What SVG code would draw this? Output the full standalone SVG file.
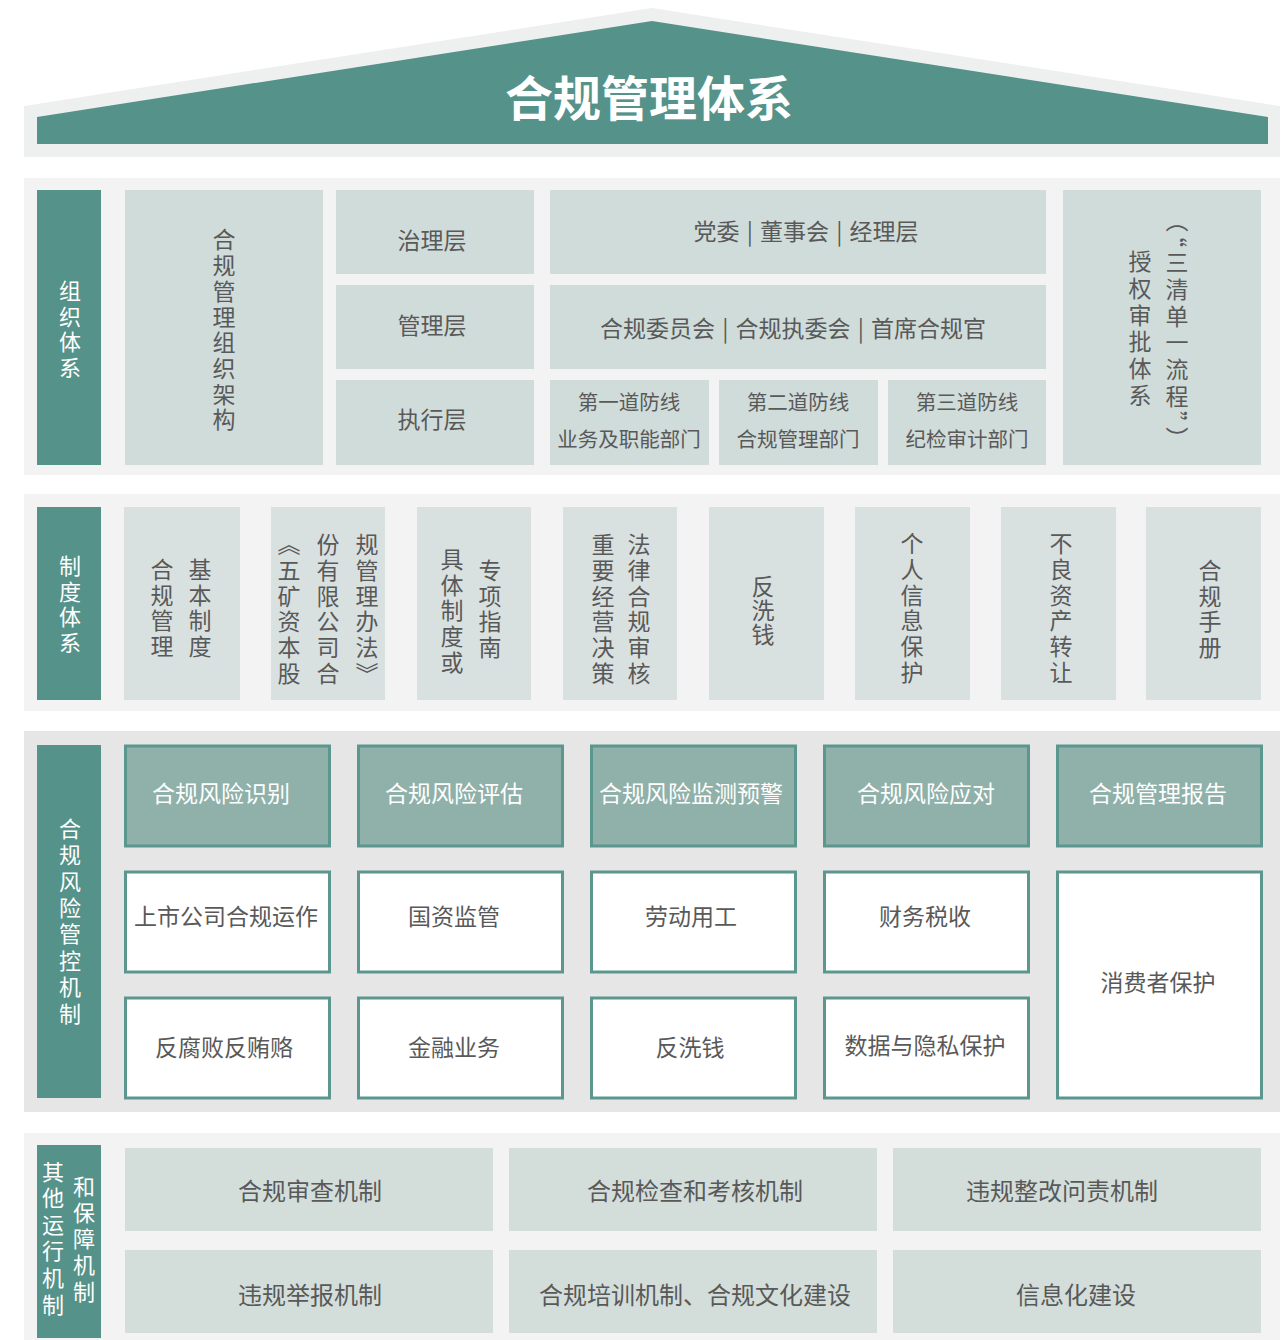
<svg xmlns="http://www.w3.org/2000/svg" width="1287" height="1340" viewBox="0 0 1287 1340">
<style>
text{font-family:"Noto Sans CJK SC","Noto Sans",sans-serif;fill:#595959;}
.h{text-anchor:middle;dominant-baseline:central;font-size:23px;}
.v{writing-mode:vertical-rl;text-anchor:middle;font-size:23px;letter-spacing:2.7px;}
.w{fill:#ffffff;}
.teal{fill:#55928a;}
.sec{fill:#f3f3f3;}
.b1{fill:#d0dcd9;}
.b2{fill:#d9e1e0;}
.b4{fill:#d3dedb;}
.rt{fill:#8fb1aa;stroke:#5b978e;stroke-width:3;}
.rw{fill:#ffffff;stroke:#5b978e;stroke-width:3;}
</style>
<rect width="1287" height="1340" fill="#ffffff"/>

<g id="roof">
<polygon points="652,8 1280,106 1280,157 24,157 24,106" fill="#eef0ef"/>
<polygon points="652,21 1268,117 1268,144 37,144 37,117" fill="#55928a"/>
<text class="h w" x="649" y="95" style="font-size:48px;font-weight:bold;">合规管理体系</text>
</g>

<g id="section-org">
<rect class="sec" x="24" y="178" width="1256" height="297"/>
<g id="label-org"><rect class="teal" x="37" y="190" width="64" height="275"/>
<text class="v w" x="70" y="331" style="font-size:22px;letter-spacing:3.7px;">组织体系</text></g>
<g id="org-structure"><rect class="b1" x="125" y="190" width="198" height="275"/>
<text class="v" x="224" y="331">合规管理组织架构</text></g>
<g id="layer-gov"><rect class="b1" x="336" y="190" width="198" height="84"/>
<text class="h" x="432" y="239">治理层</text></g>
<g id="layer-mgmt"><rect class="b1" x="336" y="285" width="198" height="84"/>
<text class="h" x="432" y="324">管理层</text></g>
<g id="layer-exec"><rect class="b1" x="336" y="380" width="198" height="85"/>
<text class="h" x="432" y="418">执行层</text></g>
<g id="gov-bodies"><rect class="b1" x="550" y="190" width="496" height="84"/>
<text class="h" x="806" y="230" style="word-spacing:2px;">党委 | 董事会 | 经理层</text></g>
<g id="mgmt-bodies"><rect class="b1" x="550" y="285" width="496" height="84"/>
<text class="h" x="793" y="327" style="word-spacing:2px;">合规委员会 | 合规执委会 | 首席合规官</text></g>
<g id="line1"><rect class="b1" x="550" y="380" width="159" height="85"/>
<text class="h" x="629" y="401" style="font-size:20.5px;">第一道防线</text>
<text class="h" x="629" y="438" style="font-size:20.5px;">业务及职能部门</text></g>
<g id="line2"><rect class="b1" x="719" y="380" width="159" height="85"/>
<text class="h" x="798" y="401" style="font-size:20.5px;">第二道防线</text>
<text class="h" x="798" y="438" style="font-size:20.5px;">合规管理部门</text></g>
<g id="line3"><rect class="b1" x="888" y="380" width="158" height="85"/>
<text class="h" x="967" y="401" style="font-size:20.5px;">第三道防线</text>
<text class="h" x="967" y="438" style="font-size:20.5px;">纪检审计部门</text></g>
<g id="authorization"><rect class="b1" x="1063" y="190" width="198" height="275"/>
<text class="v" x="1140" y="330" style="letter-spacing:3.7px;">授权审批体系</text>
<text class="v" x="1177" y="331" style="letter-spacing:3.7px;">（“三清单一流程”）</text></g>
</g>

<g id="section-rules">
<rect class="sec" x="24" y="494" width="1256" height="217"/>
<g id="label-rules"><rect class="teal" x="37" y="507" width="64" height="193"/>
<text class="v w" x="70" y="606" style="font-size:22px;letter-spacing:3.7px;">制度体系</text></g>
<g id="rule-basic"><rect class="b2" x="124" y="507" width="116" height="193"/>
<text class="v" x="162" y="609">合规管理</text>
<text class="v" x="200" y="609">基本制度</text></g>
<g id="rule-measures"><rect class="b2" x="271" y="507" width="114" height="193"/>
<text class="v" x="289" y="610">《五矿资本股</text>
<text class="v" x="328" y="610">份有限公司合</text>
<text class="v" x="367" y="610">规管理办法》</text></g>
<g id="rule-specific"><rect class="b2" x="417" y="507" width="114" height="193"/>
<text class="v" x="452" y="612">具体制度或</text>
<text class="v" x="490" y="610">专项指南</text></g>
<g id="rule-decision"><rect class="b2" x="563" y="507" width="114" height="193"/>
<text class="v" x="603" y="610">重要经营决策</text>
<text class="v" x="639" y="610">法律合规审核</text></g>
<g id="rule-aml"><rect class="b2" x="709" y="507" width="115" height="193"/>
<text class="v" x="763" y="611" style="letter-spacing:1px;">反洗钱</text></g>
<g id="rule-privacy"><rect class="b2" x="855" y="507" width="115" height="193"/>
<text class="v" x="912" y="609">个人信息保护</text></g>
<g id="rule-npa"><rect class="b2" x="1001" y="507" width="115" height="193"/>
<text class="v" x="1061" y="609">不良资产转让</text></g>
<g id="rule-manual"><rect class="b2" x="1146" y="507" width="115" height="193"/>
<text class="v" x="1210" y="610">合规手册</text></g>
</g>

<g id="section-risk">
<rect x="24" y="731" width="1256" height="381" fill="#e6e6e6"/>
<g id="label-risk"><rect class="teal" x="37" y="745" width="64" height="353"/>
<text class="v w" x="70" y="923" style="font-size:22px;letter-spacing:4.4px;">合规风险管控机制</text></g>
<g id="risk-identify"><rect class="rt" x="125.5" y="746" width="204" height="100"/>
<text class="h w" x="221" y="792">合规风险识别</text></g>
<g id="risk-assess"><rect class="rt" x="358.5" y="746" width="204" height="100"/>
<text class="h w" x="454" y="792">合规风险评估</text></g>
<g id="risk-monitor"><rect class="rt" x="591.5" y="746" width="204" height="100"/>
<text class="h w" x="691" y="792">合规风险监测预警</text></g>
<g id="risk-respond"><rect class="rt" x="824.5" y="746" width="204" height="100"/>
<text class="h w" x="926" y="792">合规风险应对</text></g>
<g id="risk-report"><rect class="rt" x="1057.5" y="746" width="204" height="100"/>
<text class="h w" x="1158" y="792">合规管理报告</text></g>
<g id="area-listed"><rect class="rw" x="125.5" y="872" width="204" height="100"/>
<text class="h" x="226" y="915">上市公司合规运作</text></g>
<g id="area-sasac"><rect class="rw" x="358.5" y="872" width="204" height="100"/>
<text class="h" x="454" y="915">国资监管</text></g>
<g id="area-labor"><rect class="rw" x="591.5" y="872" width="204" height="100"/>
<text class="h" x="691" y="915">劳动用工</text></g>
<g id="area-tax"><rect class="rw" x="824.5" y="872" width="204" height="100"/>
<text class="h" x="925" y="915">财务税收</text></g>
<g id="area-consumer"><rect class="rw" x="1057.5" y="872" width="204" height="226"/>
<text class="h" x="1158" y="981">消费者保护</text></g>
<g id="area-anticorruption"><rect class="rw" x="125.5" y="998" width="204" height="100"/>
<text class="h" x="224" y="1046">反腐败反贿赂</text></g>
<g id="area-finance"><rect class="rw" x="358.5" y="998" width="204" height="100"/>
<text class="h" x="454" y="1046">金融业务</text></g>
<g id="area-aml"><rect class="rw" x="591.5" y="998" width="204" height="100"/>
<text class="h" x="690" y="1046">反洗钱</text></g>
<g id="area-data"><rect class="rw" x="824.5" y="998" width="204" height="100"/>
<text class="h" x="925" y="1044">数据与隐私保护</text></g>
</g>

<g id="section-other">
<rect class="sec" x="24" y="1133" width="1256" height="207"/>
<g id="label-other"><rect class="teal" x="37" y="1145" width="64" height="193"/>
<text class="v w" x="53" y="1240" style="font-size:22px;letter-spacing:4.6px;">其他运行机制</text>
<text class="v w" x="84" y="1241" style="font-size:22px;letter-spacing:4.2px;">和保障机制</text></g>
<g id="mech-review"><rect class="b4" x="125" y="1148" width="368" height="83"/>
<text class="h" x="310" y="1189" style="font-size:24px;">合规审查机制</text></g>
<g id="mech-inspect"><rect class="b4" x="509" y="1148" width="368" height="83"/>
<text class="h" x="695" y="1189" style="font-size:24px;">合规检查和考核机制</text></g>
<g id="mech-rectify"><rect class="b4" x="893" y="1148" width="368" height="83"/>
<text class="h" x="1062" y="1189" style="font-size:24px;">违规整改问责机制</text></g>
<g id="mech-report"><rect class="b4" x="125" y="1250" width="368" height="83"/>
<text class="h" x="310" y="1293" style="font-size:24px;">违规举报机制</text></g>
<g id="mech-training"><rect class="b4" x="509" y="1250" width="368" height="83"/>
<text class="h" x="695" y="1293" style="font-size:24px;">合规培训机制、合规文化建设</text></g>
<g id="mech-it"><rect class="b4" x="893" y="1250" width="368" height="83"/>
<text class="h" x="1076" y="1293" style="font-size:24px;">信息化建设</text></g>
</g>

<g id="connectors"></g>
</svg>
